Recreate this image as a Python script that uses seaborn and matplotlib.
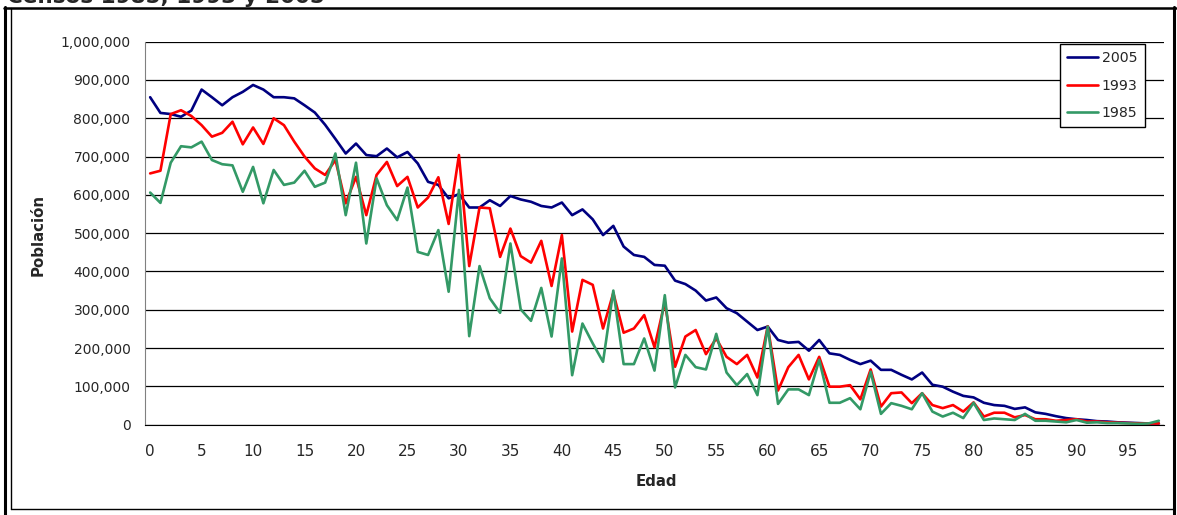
import numpy as np
import pandas as pd
import matplotlib
matplotlib.use("Agg")
import matplotlib.pyplot as plt
from matplotlib.ticker import FuncFormatter, MultipleLocator, FixedLocator
from matplotlib.lines import Line2D
import seaborn as sns

W, H = 1177, 515

edades = list(range(99))

# poblacion en miles
censo_2005 = [855, 814, 811, 804, 820, 875, 855, 834, 855, 869,
              887, 875, 855, 855, 852, 834, 815, 783, 746, 708,
              734, 704, 701, 721, 698, 712, 682, 634, 626, 591,
              602, 567, 567, 586, 571, 597, 588, 582, 571, 567,
              580, 547, 562, 536, 495, 519, 465, 443, 438, 417,
              415, 376, 367, 350, 324, 332, 304, 291, 269, 247,
              256, 221, 214, 216, 193, 221, 186, 182, 169, 158,
              167, 143, 143, 130, 118, 136, 104, 99, 86, 75,
              71, 57, 51, 49, 41, 45, 32, 28, 22, 17,
              14, 12, 9, 8, 6, 5, 4, 3, 3]
censo_1993 = [656, 663, 811, 821, 806, 782, 752, 762, 791, 732,
              776, 733, 800, 782, 739, 700, 669, 652, 691, 578,
              647, 547, 652, 686, 623, 647, 567, 593, 646, 524,
              704, 414, 567, 565, 438, 512, 440, 423, 480, 362,
              495, 243, 378, 365, 251, 344, 240, 251, 286, 202,
              320, 151, 230, 247, 184, 225, 177, 158, 182, 123,
              257, 89, 150, 182, 118, 177, 99, 99, 103, 66,
              144, 47, 82, 84, 56, 82, 51, 43, 51, 34,
              58, 21, 31, 31, 19, 25, 14, 14, 10, 12,
              14, 8, 8, 6, 5, 4, 3, 3, 3]
censo_1985 = [606, 579, 684, 727, 724, 739, 691, 680, 677, 608,
              673, 578, 665, 626, 632, 663, 621, 632, 708, 547,
              684, 473, 643, 573, 534, 619, 451, 443, 508, 347,
              613, 231, 414, 330, 292, 473, 301, 271, 357, 230,
              434, 129, 264, 212, 164, 350, 158, 158, 225, 141,
              338, 97, 182, 150, 144, 237, 136, 103, 132, 77,
              256, 54, 92, 92, 77, 169, 57, 57, 69, 40,
              138, 28, 56, 49, 40, 82, 34, 21, 31, 17,
              57, 12, 16, 14, 12, 28, 10, 10, 8, 6,
              12, 5, 6, 4, 4, 3, 2, 3, 10]

series = ["2005", "1993", "1985"]
colores = {"2005": "#000080", "1993": "#FF0000", "1985": "#339966"}

df = pd.DataFrame({
    "Edad": edades * 3,
    "Poblacion": np.array(censo_2005 + censo_1993 + censo_1985) * 1000,
    "Censo": ["2005"] * 99 + ["1993"] * 99 + ["1985"] * 99,
})

sns.set_style("white")
plt.rcParams["font.family"] = ["DejaVu Sans"]


def fx(x):
    return x / W


def fy(y):
    return 1 - y / H


fig = plt.figure(figsize=(W / 100, H / 100), dpi=100)
ax = fig.add_axes([fx(145), fy(424.6), fx(1164) - fx(145), fy(41.7) - fy(424.6)])

sns.lineplot(data=df, x="Edad", y="Poblacion", hue="Censo", hue_order=series,
             palette=colores, linewidth=1.9, ax=ax, legend=False, zorder=3)

ax.set_xlim(-0.5, 98.5)
ax.set_ylim(0, 1000000)
ax.yaxis.set_major_locator(MultipleLocator(100000))
ax.yaxis.set_major_formatter(FuncFormatter(lambda v, p: f"{v:,.0f}"))
ax.grid(axis="y", color="black", linewidth=0.9, zorder=1)
ax.grid(axis="x", visible=False)

ax.xaxis.set_major_locator(FixedLocator(list(range(0, 99, 5))))
ax.xaxis.set_minor_locator(FixedLocator(np.arange(-0.5, 99, 1)))
ax.tick_params(axis="x", which="major", length=0, pad=14, labelsize=11)
ax.tick_params(axis="x", which="minor", length=5, width=1, color="#555555", direction="out")
ax.tick_params(axis="y", which="major", length=4, width=1, color="#555555", direction="out",
               labelsize=10, pad=6.5)

for s in ["right", "top"]:
    ax.spines[s].set_visible(False)
ax.spines["left"].set_color("#808080")
ax.spines["bottom"].set_color("black")

ax.set_xlabel("")
ax.set_ylabel("")
fig.text(fx(656), fy(482), "Edad", fontsize=10.8, fontweight="bold", ha="center", va="center")
fig.text(fx(38), fy(235), "Población", fontsize=10.8, fontweight="bold", rotation=90,
         ha="center", va="center")

handles = [Line2D([], [], color=colores[s], linewidth=1.9) for s in series]
leg = ax.legend(handles, series, loc="upper left", bbox_to_anchor=(fx(1060), fy(44)),
                bbox_transform=fig.transFigure, frameon=True, fancybox=False,
                edgecolor="black", framealpha=1, fontsize=10.2, handlelength=2.2,
                handletextpad=0.25, labelspacing=0.95, borderpad=0.5, borderaxespad=0)
leg.get_frame().set_linewidth(1.0)

# marco del grafico
fig.add_artist(Line2D([fx(11), fx(11)], [fy(7.5), fy(509)], color="black", lw=1.0))
fig.add_artist(Line2D([fx(11), fx(1173)], [fy(509), fy(509)], color="black", lw=1.0))
fig.add_artist(Line2D([fx(5), fx(5)], [fy(7), fy(515)], color="black", lw=2.2))
fig.add_artist(Line2D([fx(3.5), fx(1175.5)], [fy(7.5), fy(7.5)], color="black", lw=1.8))
fig.add_artist(Line2D([fx(1174), fx(1174)], [fy(7), fy(515)], color="black", lw=2.2))

fig.text(fx(7), fy(3), "Censos 1985, 1993 y 2005", fontsize=15.5, fontweight="bold",
         ha="left", va="baseline")

fig.savefig("out.png", dpi=100)
